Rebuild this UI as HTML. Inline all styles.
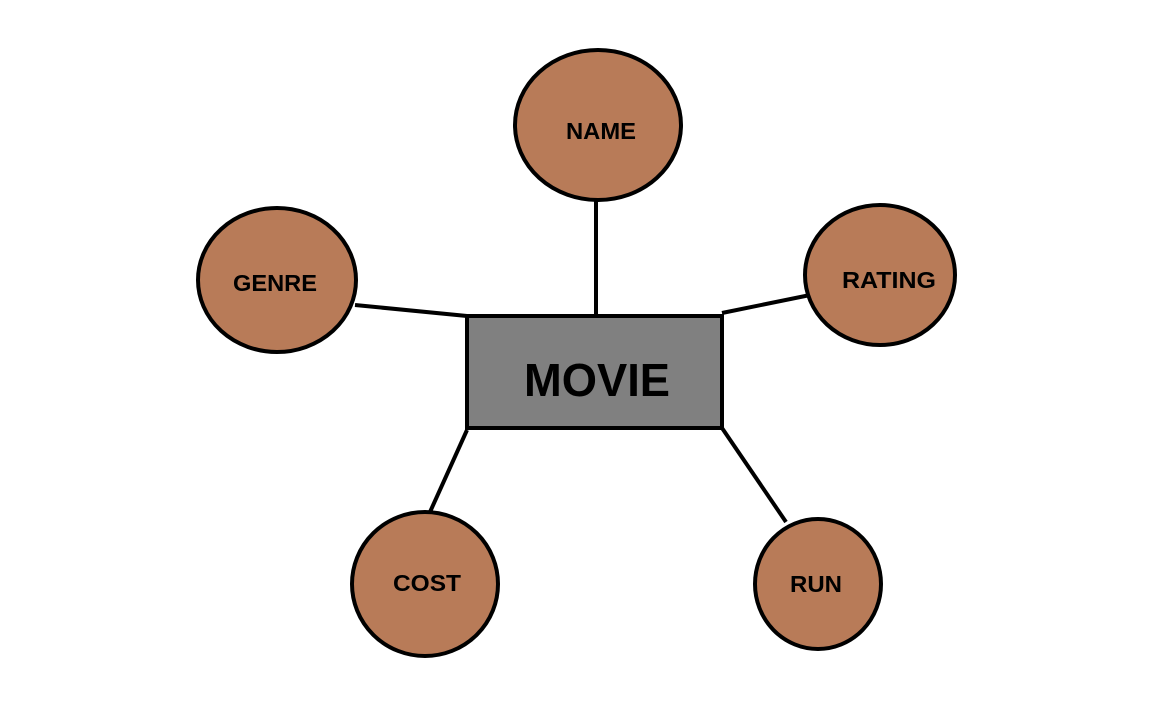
<!DOCTYPE html>
<html><head><meta charset="utf-8"><style>
html,body{margin:0;padding:0;background:#fff;width:1152px;height:720px;overflow:hidden}
text{font-family:"Liberation Sans",sans-serif;font-weight:bold;fill:#000}
</style></head><body>
<svg width="1152" height="720" viewBox="0 0 1152 720" xmlns="http://www.w3.org/2000/svg">
<g stroke="#000" stroke-width="4" fill="none">
<line x1="596" y1="200" x2="596" y2="316"/>
<line x1="355" y1="305" x2="467" y2="316"/>
<line x1="722" y1="313" x2="820" y2="293"/>
<line x1="467" y1="430" x2="430" y2="512"/>
<line x1="722" y1="428" x2="786" y2="522"/>
</g>
<g stroke="#000" stroke-width="4" fill="#b87b58">
<ellipse cx="598" cy="125" rx="83" ry="75"/>
<ellipse cx="277" cy="280" rx="79" ry="72"/>
<ellipse cx="880" cy="275" rx="75" ry="70"/>
<ellipse cx="425" cy="584" rx="73" ry="72"/>
<ellipse cx="818" cy="584" rx="63" ry="65"/>
</g>
<rect x="467" y="316" width="255" height="112" fill="#808080" stroke="#000" stroke-width="4"/>
<text x="597" y="396" font-size="46" text-anchor="middle" textLength="146" lengthAdjust="spacingAndGlyphs">MOVIE</text>
<g font-size="23" text-anchor="middle">
<text x="601" y="139" textLength="70" lengthAdjust="spacingAndGlyphs">NAME</text>
<text x="275" y="291" textLength="84" lengthAdjust="spacingAndGlyphs">GENRE</text>
<text x="889" y="288" textLength="94" lengthAdjust="spacingAndGlyphs">RATING</text>
<text x="427" y="591" textLength="68" lengthAdjust="spacingAndGlyphs">COST</text>
<text x="816" y="592" textLength="52" lengthAdjust="spacingAndGlyphs">RUN</text>
</g>
</svg>
</body></html>
